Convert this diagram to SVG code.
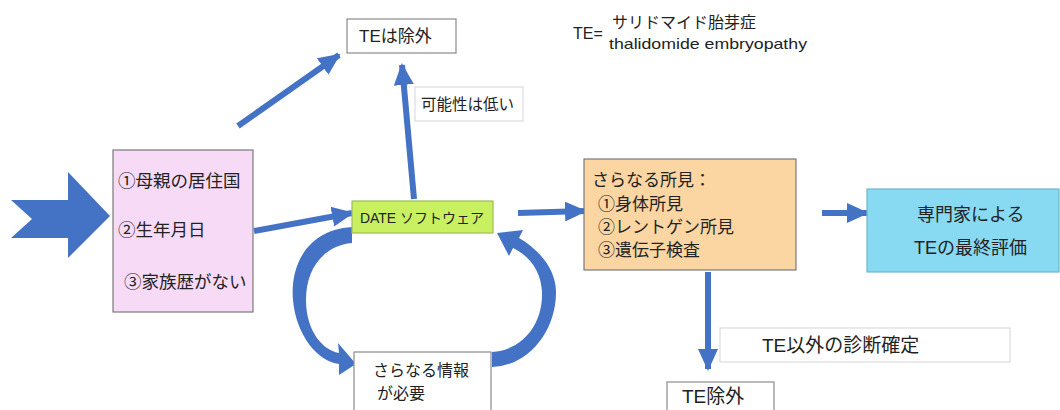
<svg xmlns="http://www.w3.org/2000/svg" width="1060" height="410" viewBox="0 0 1060 410">
<style>
text{font-family:"Liberation Sans","Noto Sans CJK JP",sans-serif;fill:#222}
.box{stroke:#7a7a7a;stroke-width:1.2}
.faint{fill:#fff;stroke:#dcdcdc;stroke-width:1.2}
.wbox{fill:#fff;stroke:#8a8a8a;stroke-width:1.2}
.conn{stroke:#4472c4;stroke-width:6;fill:none}
.blue{fill:#4472c4}
</style>
<defs>
<marker id="ah" markerUnits="userSpaceOnUse" markerWidth="22" markerHeight="22" viewBox="0 0 22 22" refX="20" refY="11" orient="auto">
<path d="M0,1 L22,11 L0,21 Z" fill="#4472c4"/>
</marker>
</defs>
<rect width="1060" height="410" fill="#fff"/>

<g id="connectors">
<polygon class="blue" points="11,200 68,200 68,172 110,216 68,258 68,238 11,238 32,219"/>
<line class="conn" x1="254" y1="231" x2="352" y2="213" marker-end="url(#ah)"/>
<line class="conn" x1="238" y1="126" x2="339" y2="55" marker-end="url(#ah)"/>
<line class="conn" x1="414" y1="199" x2="402" y2="65" marker-end="url(#ah)"/>
<line class="conn" x1="518" y1="213" x2="585" y2="211" marker-end="url(#ah)"/>
<line class="conn" x1="822" y1="213" x2="867" y2="213" marker-end="url(#ah)"/>
<line class="conn" x1="708" y1="272" x2="708" y2="369" marker-end="url(#ah)"/>
<path class="blue" d="M352,227 C305,230 290,268 293,300 C296,335 318,362 339,364 L339,375 L356,364 L338,343 L339,353 C322,350 306,330 306,300 C306,270 322,246 352,243 Z"/>
<path class="blue" d="M492,352 C522,350 543,325 542,292 C541,272 531,257 513,248 L509,256 L497,233 L523,230 L519,238 C540,250 556,270 556,292 C556,332 528,366 492,367 Z"/>
</g>

<g id="legend">
<text x="573" y="39" font-size="16">TE=</text>
<text x="612" y="28" font-size="16">サリドマイド胎芽症</text>
<text x="609" y="49" font-size="15" textLength="198" lengthAdjust="spacingAndGlyphs">thalidomide embryopathy</text>
</g>

<g id="n-te-excl-top">
<rect class="wbox" x="347" y="19" width="109" height="34"/>
<text x="359" y="42" font-size="17">TEは除外</text>
</g>

<g id="n-low">
<rect class="faint" x="415" y="87" width="108" height="34"/>
<text x="421" y="110" font-size="15.5">可能性は低い</text>
</g>

<g id="n-input">
<rect class="box" x="113" y="150" width="140" height="162" fill="#f7dbf6"/>
<text x="118" y="187" font-size="17.5">①母親の居住国</text>
<text x="118" y="236" font-size="17.5">②生年月日</text>
<text x="124" y="288" font-size="17.5">③家族歴がない</text>
</g>

<g id="n-date">
<rect x="352" y="201" width="141" height="32" fill="#c9f060" stroke="#9cbc58" stroke-width="1.2"/>
<text x="422" y="223" font-size="14" text-anchor="middle">DATE ソフトウェア</text>
</g>

<g id="n-findings">
<rect class="box" x="584" y="159" width="212" height="111" fill="#fbd5a2"/>
<text x="592" y="186" font-size="17">さらなる所見：</text>
<text x="598" y="210" font-size="17">①身体所見</text>
<text x="598" y="233" font-size="17">②レントゲン所見</text>
<text x="598" y="256" font-size="17">③遺伝子検査</text>
</g>

<g id="n-expert">
<rect x="867" y="189" width="192" height="83" fill="#88daf2" stroke="#6fb6cf" stroke-width="1.2"/>
<text x="917" y="221" font-size="18">専門家による</text>
<text x="914" y="254" font-size="18">TEの最終評価</text>
</g>

<g id="n-other-dx">
<rect class="faint" x="720" y="328" width="290" height="34"/>
<text x="762" y="352" font-size="19">TE以外の診断確定</text>
</g>

<g id="n-te-excl-bottom">
<rect class="wbox" x="667" y="382" width="107" height="40"/>
<text x="682" y="403" font-size="19">TE除外</text>
</g>

<g id="n-more-info">
<rect class="wbox" x="354" y="352" width="137" height="70"/>
<text x="373" y="376" font-size="16">さらなる情報</text>
<text x="377" y="399" font-size="16">が必要</text>
</g>
</svg>
